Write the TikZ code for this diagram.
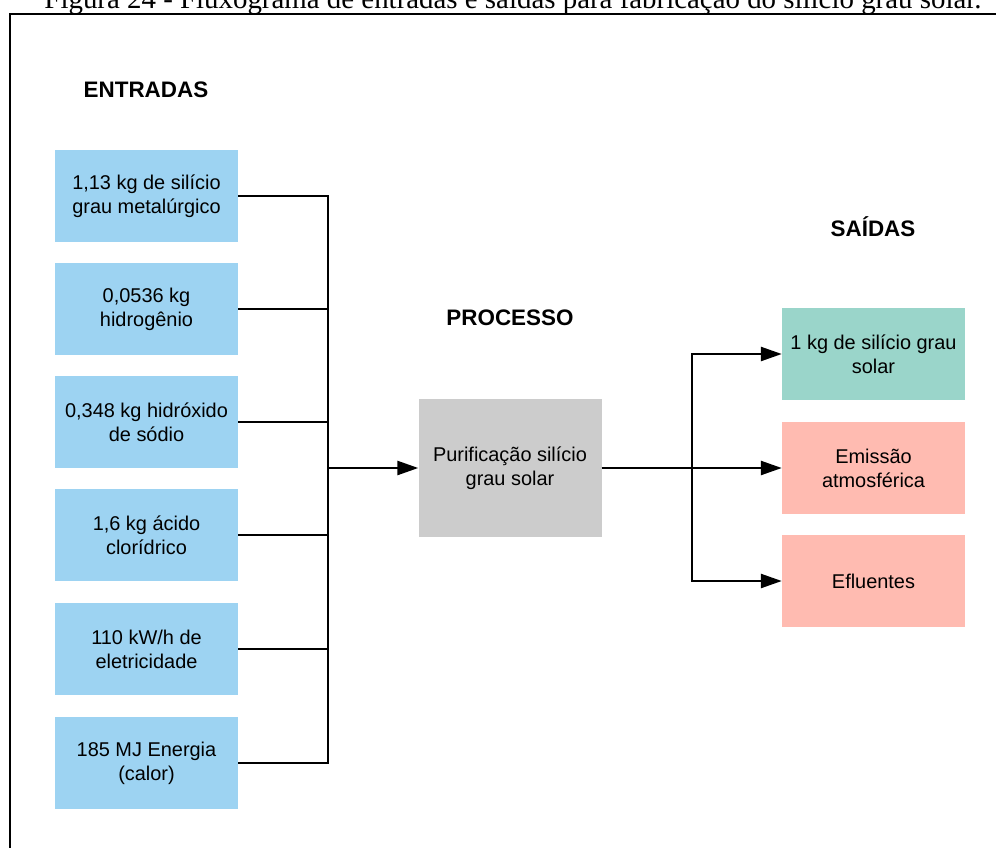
\documentclass[tikz,border=0pt]{standalone}
\usepackage{fontspec}
\setmainfont{Liberation Sans}
\newfontfamily\capfont{Liberation Serif}
\usetikzlibrary{arrows.meta}
\definecolor{entblue}{RGB}{157,211,242}
\definecolor{saigreen}{RGB}{154,213,202}
\definecolor{saipink}{RGB}{255,187,177}
\definecolor{procgray}{RGB}{204,204,204}

\begin{document}
\begin{tikzpicture}[
  caixa/.style={inner sep=0pt,minimum width=183bp,minimum height=92bp,align=center,font=\fontsize{20}{24}\selectfont},
  titulo/.style={font=\fontsize{22.5}{27}\selectfont\bfseries},
  fluxo/.style={line width=2.5bp},
  >={Triangle[length=21bp,width=14bp]}
]
\useasboundingbox (0bp,0bp) rectangle (996bp,-848bp);
\clip (0bp,0bp) rectangle (996bp,-848bp);

% legenda e moldura
\node (legenda) at (513bp,-8bp)[anchor=base,font=\capfont\fontsize{29}{34}\selectfont] {Figura 24 - Fluxograma de entradas e saídas para fabricação do silício grau solar.};
\draw [line width=2bp] (1020bp,-13.5bp) -- (10bp,-13.5bp) -- (10bp,-870bp);

% titulos
\node (ENT) at (146bp,-90bp)[titulo] {ENTRADAS};
\node (PROC) at (510bp,-318bp)[titulo] {PROCESSO};
\node (SAI) at (873bp,-227bp)[titulo] {SAÍDAS};

% entradas
\node (E1) at (146.5bp,-196bp)[caixa,fill=entblue] {1,13 kg de silício\\grau metalúrgico};
\node (E2) at (146.5bp,-309bp)[caixa,fill=entblue] {0,0536 kg\\hidrogênio};
\node (E3) at (146.5bp,-422bp)[caixa,fill=entblue] {0,348 kg hidróxido\\de sódio};
\node (E4) at (146.5bp,-535bp)[caixa,fill=entblue] {1,6 kg ácido\\clorídrico};
\node (E5) at (146.5bp,-649bp)[caixa,fill=entblue] {110 kW/h de\\eletricidade};
\node (E6) at (146.5bp,-763bp)[caixa,fill=entblue] {185 MJ Energia\\(calor)};

% processo
\node (P) at (510bp,-468bp)[caixa,fill=procgray,minimum height=138bp] {Purificação silício\\grau solar};

% saidas
\node (S1) at (873.5bp,-354bp)[caixa,fill=saigreen] {1 kg de silício grau\\solar};
\node (S2) at (873.5bp,-468bp)[caixa,fill=saipink] {Emissão\\atmosférica};
\node (S3) at (873.5bp,-581bp)[caixa,fill=saipink] {Efluentes};

\coordinate (Jin) at (328bp,-468bp);
\coordinate (Jout) at (692bp,-468bp);

\draw [fluxo] (E1.east) -| (Jin);
\draw [fluxo] (E2.east) -| (Jin);
\draw [fluxo] (E3.east) -| (Jin);
\draw [fluxo] (E4.east) -| (Jin);
\draw [fluxo] (E5.east) -| (Jin);
\draw [fluxo] (E6.east) -| (Jin);
\draw [fluxo,->] (Jin) -- (P.west);
\draw [fluxo] (P.east) -- (Jout);
\draw [fluxo,->] (Jout) |- (S1.west);
\draw [fluxo,->] (Jout) -- (S2.west);
\draw [fluxo,->] (Jout) |- (S3.west);
\end{tikzpicture}
\end{document}
